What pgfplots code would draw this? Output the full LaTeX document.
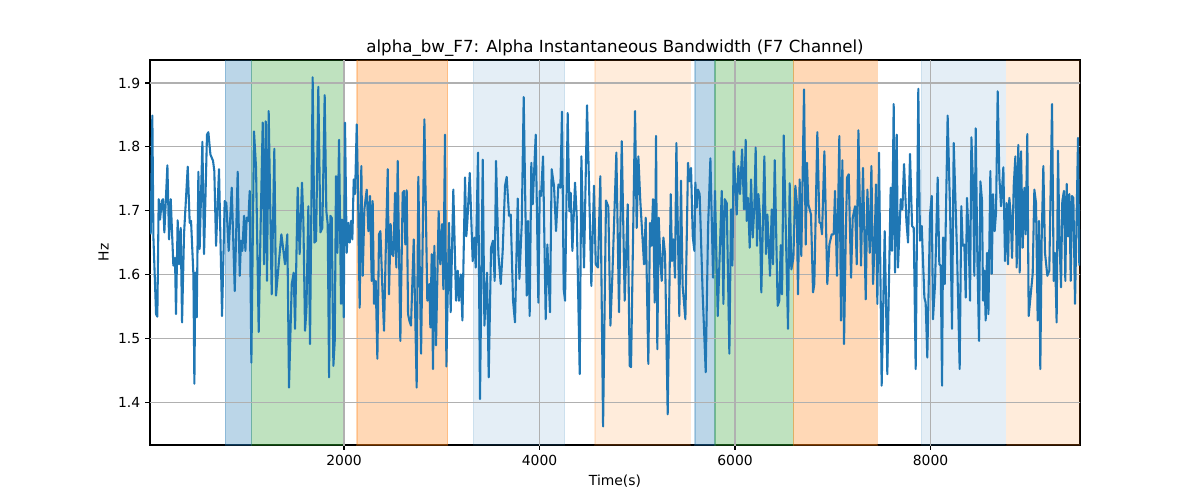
\documentclass[border=0pt]{standalone}
\usepackage{fontspec}
\setmainfont{DejaVu Sans}
\usepackage{pgfplots}
\pgfplotsset{compat=1.18}
\definecolor{tabblue}{HTML}{1F77B4}
\definecolor{taborange}{HTML}{FF7F0E}
\definecolor{tabgreen}{HTML}{2CA02C}
\definecolor{gridgray}{HTML}{B0B0B0}
\pgfplotstableread{
t v
22 1.663
39 1.849
50 1.658
77 1.538
90 1.534
104 1.718
118 1.686
135 1.715
148 1.718
162 1.666
193 1.771
210 1.655
227 1.718
254 1.614
271 1.626
281 1.538
298 1.685
312 1.616
329 1.673
343 1.525
363 1.663
401 1.769
421 1.681
435 1.684
459 1.600
469 1.429
479 1.603
493 1.533
510 1.761
523 1.640
551 1.808
568 1.632
598 1.819
612 1.823
633 1.788
660 1.778
673 1.762
691 1.645
721 1.765
752 1.535
779 1.715
796 1.712
820 1.637
851 1.736
882 1.574
912 1.761
933 1.598
946 1.653
960 1.637
977 1.692
991 1.637
1004 1.689
1021 1.684
1035 1.731
1052 1.462
1079 1.824
1100 1.767
1127 1.510
1144 1.655
1168 1.838
1182 1.616
1199 1.840
1212 1.590
1229 1.856
1260 1.569
1287 1.797
1304 1.567
1335 1.622
1359 1.663
1376 1.642
1396 1.616
1420 1.663
1437 1.423
1465 1.585
1485 1.603
1499 1.515
1526 1.736
1546 1.632
1570 1.744
1584 1.684
1601 1.512
1615 1.543
1635 1.707
1652 1.491
1679 1.909
1697 1.650
1714 1.653
1737 1.894
1758 1.666
1778 1.673
1802 1.881
1819 1.699
1833 1.679
1847 1.439
1860 1.692
1874 1.689
1891 1.457
1905 1.496
1918 1.754
1932 1.634
1949 1.811
1969 1.554
1980 1.686
1997 1.533
2010 1.838
2027 1.634
2044 1.681
2058 1.650
2072 1.684
2085 1.655
2099 1.749
2113 1.726
2130 1.835
2143 1.731
2160 1.548
2177 1.770
2191 1.598
2208 1.702
2232 1.733
2249 1.668
2266 1.723
2283 1.590
2293 1.715
2307 1.554
2324 1.590
2341 1.468
2358 1.663
2372 1.668
2392 1.580
2409 1.512
2426 1.632
2447 1.765
2460 1.569
2477 1.679
2491 1.632
2505 1.629
2522 1.728
2535 1.611
2549 1.778
2576 1.496
2600 1.728
2614 1.731
2627 1.647
2641 1.732
2655 1.538
2668 1.528
2685 1.520
2713 1.655
2743 1.423
2760 1.753
2788 1.476
2822 1.843
2852 1.559
2873 1.585
2883 1.517
2897 1.632
2910 1.452
2924 1.645
2941 1.489
2968 1.699
2985 1.616
3003 1.679
3016 1.577
3033 1.819
3047 1.456
3074 1.681
3091 1.541
3118 1.733
3146 1.559
3163 1.606
3176 1.559
3194 1.600
3211 1.528
3238 1.752
3251 1.660
3262 1.684
3286 1.759
3316 1.621
3333 1.658
3347 1.611
3371 1.791
3391 1.405
3419 1.780
3436 1.520
3463 1.603
3480 1.439
3504 1.642
3524 1.653
3541 1.590
3555 1.778
3579 1.632
3603 1.585
3623 1.637
3647 1.739
3664 1.753
3688 1.692
3705 1.694
3729 1.559
3749 1.525
3777 1.719
3794 1.593
3818 1.679
3838 1.878
3869 1.567
3882 1.684
3899 1.535
3916 1.775
3930 1.710
3961 1.819
3988 1.556
4002 1.731
4015 1.723
4036 1.785
4063 1.530
4080 1.647
4107 1.541
4124 1.765
4148 1.739
4169 1.668
4193 1.741
4213 1.736
4230 1.855
4247 1.577
4261 1.559
4288 1.853
4305 1.699
4319 1.728
4336 1.637
4363 1.744
4380 1.694
4411 1.444
4428 1.785
4455 1.611
4486 1.865
4506 1.744
4530 1.582
4557 1.739
4575 1.616
4598 1.611
4622 1.754
4650 1.362
4680 1.716
4704 1.706
4725 1.520
4745 1.598
4786 1.791
4813 1.541
4841 1.809
4871 1.559
4902 1.710
4922 1.457
4936 1.455
4977 1.856
4994 1.673
5011 1.785
5031 1.715
5069 1.616
5086 1.689
5113 1.460
5130 1.681
5144 1.645
5161 1.718
5178 1.556
5192 1.817
5205 1.483
5219 1.689
5236 1.621
5250 1.590
5267 1.658
5284 1.632
5311 1.381
5342 1.726
5355 1.621
5369 1.655
5386 1.595
5400 1.806
5430 1.535
5447 1.747
5464 1.582
5492 1.530
5519 1.775
5533 1.746
5550 1.767
5567 1.660
5584 1.637
5594 1.744
5608 1.705
5621 1.733
5638 1.726
5669 1.569
5700 1.447
5724 1.673
5748 1.782
5775 1.595
5795 1.731
5823 1.535
5864 1.731
5881 1.554
5894 1.718
5915 1.712
5942 1.476
5959 1.702
5973 1.614
5986 1.793
6017 1.694
6034 1.770
6051 1.726
6072 1.796
6092 1.702
6109 1.811
6119 1.684
6133 1.720
6150 1.642
6164 1.749
6181 1.658
6198 1.707
6211 1.799
6225 1.645
6239 1.726
6252 1.699
6269 1.572
6300 1.785
6317 1.632
6331 1.694
6358 1.598
6375 1.702
6389 1.616
6406 1.779
6436 1.551
6453 1.559
6467 1.646
6481 1.569
6498 1.818
6525 1.632
6542 1.515
6559 1.743
6576 1.608
6597 1.626
6617 1.739
6631 1.715
6644 1.569
6661 1.749
6678 1.629
6706 1.890
6723 1.647
6736 1.775
6750 1.710
6777 1.694
6798 1.572
6811 1.585
6842 1.823
6863 1.681
6876 1.681
6890 1.663
6914 1.793
6944 1.585
6965 1.647
6989 1.663
7009 1.663
7023 1.731
7043 1.598
7067 1.817
7084 1.528
7098 1.779
7115 1.491
7132 1.655
7146 1.752
7163 1.757
7187 1.595
7204 1.689
7228 1.707
7245 1.616
7262 1.826
7289 1.614
7309 1.767
7337 1.561
7354 1.733
7378 1.634
7395 1.770
7412 1.585
7429 1.655
7442 1.741
7456 1.554
7473 1.791
7500 1.426
7531 1.668
7558 1.444
7592 1.736
7606 1.637
7623 1.867
7637 1.603
7654 1.819
7667 1.611
7695 1.718
7712 1.702
7729 1.773
7753 1.684
7770 1.650
7790 1.789
7811 1.676
7828 1.673
7848 1.452
7875 1.891
7892 1.653
7910 1.676
7937 1.564
7950 1.556
7967 1.470
7995 1.694
8012 1.723
8025 1.530
8046 1.585
8073 1.752
8090 1.616
8104 1.614
8118 1.426
8128 1.658
8145 1.585
8175 1.849
8203 1.679
8220 1.515
8237 1.806
8271 1.634
8298 1.452
8315 1.707
8329 1.645
8346 1.647
8360 1.564
8373 1.720
8390 1.660
8404 1.559
8418 1.815
8435 1.741
8448 1.598
8462 1.829
8479 1.626
8496 1.496
8510 1.746
8527 1.715
8537 1.559
8551 1.606
8564 1.528
8578 1.634
8592 1.538
8612 1.762
8626 1.601
8639 1.726
8656 1.668
8670 1.697
8687 1.887
8704 1.752
8721 1.707
8745 1.768
8762 1.621
8779 1.712
8793 1.616
8806 1.720
8820 1.694
8834 1.626
8851 1.739
8868 1.785
8881 1.611
8898 1.803
8912 1.603
8926 1.793
8943 1.642
8960 1.736
8973 1.663
8990 1.820
9004 1.535
9025 1.569
9045 1.601
9062 1.733
9079 1.712
9096 1.528
9110 1.684
9123 1.452
9137 1.655
9154 1.770
9171 1.634
9195 1.598
9215 1.606
9243 1.867
9260 1.590
9273 1.634
9290 1.525
9304 1.794
9318 1.660
9335 1.580
9348 1.715
9365 1.731
9379 1.590
9393 1.742
9406 1.660
9420 1.726
9434 1.590
9447 1.723
9461 1.720
9478 1.554
9498 1.720
9509 1.814
9522 1.614
}\bwdata
\pgfplotsset{
  span/.style n args={2}{fill=#1, fill opacity=#2, draw=#1, draw opacity=#2, line width=0.8pt, mark=none},
  gridline/.style={gridgray, line width=0.8pt, mark=none, forget plot},
}
\begin{document}
\begin{tikzpicture}
\path[use as bounding box] (0,0) rectangle (864pt,360pt);
\begin{axis}[
  at={(108pt,39.6pt)}, anchor=south west,
  scale only axis, width=669.6pt, height=277.2pt,
  xmin=15, xmax=9529, ymin=1.333, ymax=1.936,
  xtick={2000,4000,6000,8000},
  ytick={1.4,1.5,1.6,1.7,1.8,1.9},
  /pgf/number format/assume math mode=true,
  /pgf/number format/1000 sep={},
  yticklabel style={/pgf/number format/.cd, fixed, fixed zerofill, precision=1},
  tick label style={font=\fontsize{10}{12}\selectfont},
  tick align=outside, major tick length=3.5pt,
  tick style={black, line width=0.8pt},
  xtick pos=bottom, ytick pos=left,
  axis line style={black, line width=0.8pt},
  title={alpha\_bw\_F7: Alpha Instantaneous Bandwidth (F7 Channel)},
  title style={font=\fontsize{12}{14}\selectfont, yshift=-7pt},
  xlabel={Time(s)}, ylabel={Hz},
  label style={font=\fontsize{10}{12}\selectfont},
]
\addplot[span={tabblue}{0.3}] coordinates {(783,2.1) (1055,2.1)} \closedcycle;
\addplot[span={tabgreen}{0.3}] coordinates {(1055,2.1) (2003,2.1)} \closedcycle;
\addplot[span={taborange}{0.3}] coordinates {(2133,2.1) (3060,2.1)} \closedcycle;
\addplot[span={tabblue}{0.12}] coordinates {(3320,2.1) (4257,2.1)} \closedcycle;
\addplot[span={taborange}{0.15}] coordinates {(4567,2.1) (5540,2.1)} \closedcycle;
\addplot[span={tabblue}{0.3}] coordinates {(5590,2.1) (5795,2.1)} \closedcycle;
\addplot[span={tabgreen}{0.3}] coordinates {(5795,2.1) (6597,2.1)} \closedcycle;
\addplot[span={taborange}{0.3}] coordinates {(6597,2.1) (7457,2.1)} \closedcycle;
\addplot[span={tabblue}{0.12}] coordinates {(7903,2.1) (8765,2.1)} \closedcycle;
\addplot[span={taborange}{0.15}] coordinates {(8779,2.1) (9600,2.1)} \closedcycle;
\addplot[gridline] coordinates {(0,1.4) (9600,1.4)};
\addplot[gridline] coordinates {(0,1.5) (9600,1.5)};
\addplot[gridline] coordinates {(0,1.6) (9600,1.6)};
\addplot[gridline] coordinates {(0,1.7) (9600,1.7)};
\addplot[gridline] coordinates {(0,1.8) (9600,1.8)};
\addplot[gridline] coordinates {(0,1.9) (9600,1.9)};
\addplot[gridline] coordinates {(2000,1.2) (2000,2.1)};
\addplot[gridline] coordinates {(4000,1.2) (4000,2.1)};
\addplot[gridline] coordinates {(6000,1.2) (6000,2.1)};
\addplot[gridline] coordinates {(8000,1.2) (8000,2.1)};
\addplot[tabblue, line width=1.5pt, line join=round, mark=none] table[x=t, y=v] {\bwdata};
\end{axis}
\end{tikzpicture}
\end{document}
